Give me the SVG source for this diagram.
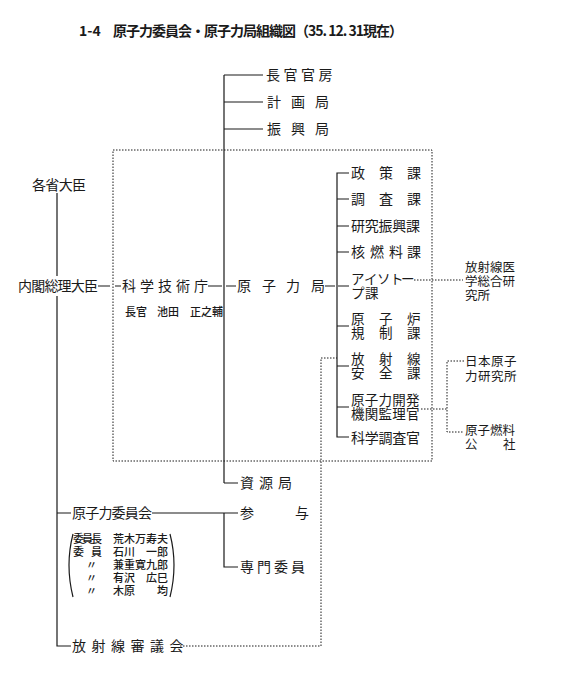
<svg xmlns="http://www.w3.org/2000/svg" width="565" height="682" viewBox="0 0 565 682">
<style>
text{font-family:"Noto Sans CJK JP","Noto Sans CJK SC",sans-serif;fill:#1a1a1a;}
.m{font-size:14px;}
.k{font-size:13.5px;}
.r{font-size:12.5px;}
.s{font-size:11px;font-weight:500;}
.t{font-size:14px;font-weight:bold;}
.ln{stroke:#1a1a1a;stroke-width:1.2;fill:none;}
.dt{stroke:#1a1a1a;stroke-width:1;fill:none;stroke-dasharray:1.5 1.5;}
</style>
<rect width="565" height="682" fill="#fff"/>
<g id="title">
<text class="t" x="79" y="36">1-4</text>
<text class="t" x="113" y="36" textLength="290" lengthAdjust="spacing">原子力委員会・原子力局組織図（35. 12. 31現在）</text>
</g>
<g id="connectors">
<rect class="dt" x="113" y="150" width="319" height="311"/>
<path class="ln" d="M224,75 V483 M224,75 H263 M224,102 H263 M224,129 H263 M224,483 H238"/>
<path class="ln" d="M57,193 V276 M57,296 V646 H71 M57,513 H71 M152,513 H224 V567 H238 M224,513 H238"/>
<path class="ln" d="M98,286 H110 M115,286 H121 M208,286 H222 M226,286 H236 M325,286 H335 M338,286 H349"/>
<path class="ln" d="M349,173 H337 V437 H349 M337,199 H349 M337,226 H349 M337,252 H349 M337,326 H349 M337,366 H349 M337,407 H349"/>
<path class="dt" d="M414,280 H463"/>
<path class="dt" d="M180,646 H321 V358 H337"/>
<path class="dt" d="M421,409 H447 M464,361 H447 V432 H464"/>
</g>
<g id="chokan-kanbo"><text class="m" x="266 283.5 301 318.5" y="80">長官官房</text></g>
<g id="keikaku"><text class="m" x="267 291 315" y="107">計画局</text></g>
<g id="shinko"><text class="m" x="267 291 315" y="134">振興局</text></g>
<g id="kakusho"><text class="m" x="32" y="190" textLength="54" lengthAdjust="spacing">各省大臣</text></g>
<g id="sori"><text class="m" x="18" y="291" textLength="80" lengthAdjust="spacing">内閣総理大臣</text></g>
<g id="kagaku-gijutsu-cho">
<text class="m" x="122 140 158 176 194" y="291">科学技術庁</text>
<text class="s" y="316"><tspan x="125">長官</tspan><tspan x="157">池田</tspan><tspan x="190">正之輔</tspan></text>
</g>
<g id="genshiryoku-kyoku"><text class="m" x="237 262 286 311" y="291">原子力局</text></g>
<g id="seisaku"><text class="m" x="351 379 407" y="178">政策課</text></g>
<g id="chosa"><text class="m" x="351 379 407" y="204">調査課</text></g>
<g id="kenkyu"><text class="m" x="351 364.75 378.5 392.25 406" y="231">研究振興課</text></g>
<g id="kaku"><text class="m" x="351 370 389 407" y="257">核燃料課</text></g>
<g id="isotope">
<text class="k"><tspan x="351 364 377 390 401" y="284">アイソトー</tspan><tspan x="351 365" y="298">プ課</tspan></text>
</g>
<g id="genshiro">
<text class="k"><tspan x="351 379 407" y="324">原子炉</tspan><tspan x="351 379 407" y="338">規制課</tspan></text>
</g>
<g id="hoshasen-anzen">
<text class="k"><tspan x="351 379 407" y="364">放射線</tspan><tspan x="351 379 407" y="378">安全課</tspan></text>
</g>
<g id="kaihatsu">
<text class="k"><tspan x="351 364.75 378.5 392.25 406" y="405">原子力開発</tspan><tspan x="351 364.75 378.5 392.25 406" y="419">機関監理官</tspan></text>
</g>
<g id="chosakan"><text class="m" x="351 364.75 378.5 392.25 406" y="443">科学調査官</text></g>
<g id="hoiken">
<text class="r"><tspan x="465 477.5 490 502.5" y="272">放射線医</tspan><tspan x="465 477.5 490 502.5" y="286">学総合研</tspan><tspan x="465 477.5" y="300">究所</tspan></text>
</g>
<g id="genken">
<text class="r"><tspan x="465 478 491 504" y="366">日本原子</tspan><tspan x="465 478 491 504" y="381">力研究所</tspan></text>
</g>
<g id="nenryo">
<text class="r"><tspan x="465 477.5 490 502.5" y="435">原子燃料</tspan><tspan x="465 503" y="449">公社</tspan></text>
</g>
<g id="shigen"><text class="m" x="240 259 278" y="488">資源局</text></g>
<g id="iinkai">
<text class="m" x="72" y="518" textLength="80" lengthAdjust="spacing">原子力委員会</text>
<path class="ln" d="M73,534 Q65,565 73,597 M170,534 Q178,565 170,597" stroke-width="1"/>
<text class="s"><tspan x="73 82 91" y="543">委員長</tspan><tspan x="113" y="543">荒木万寿夫</tspan><tspan x="73 91" y="556">委員</tspan><tspan x="113" y="556">石川</tspan><tspan x="146" y="556">一郎</tspan><tspan x="86" y="569">〃</tspan><tspan x="113" y="569">兼重寛九郎</tspan><tspan x="86" y="582">〃</tspan><tspan x="113" y="582">有沢</tspan><tspan x="146" y="582">広巳</tspan><tspan x="86" y="595">〃</tspan><tspan x="113" y="595">木原</tspan><tspan x="157" y="595">均</tspan></text>
</g>
<g id="sanyo"><text class="m" x="240 295" y="518">参与</text></g>
<g id="senmon"><text class="m" x="240 257 274 291" y="572">専門委員</text></g>
<g id="shingikai"><text class="m" x="72 91.5 111 130.5 150 169.5" y="651">放射線審議会</text></g>
</svg>
